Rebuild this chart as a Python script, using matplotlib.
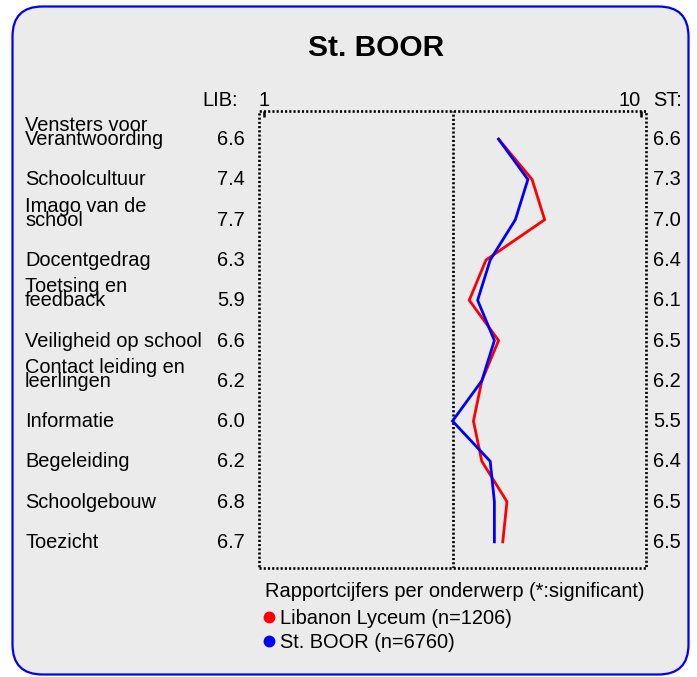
import matplotlib
matplotlib.use("Agg")
import matplotlib.pyplot as plt
from matplotlib.patches import FancyBboxPatch
from matplotlib.lines import Line2D

plt.rcParams['font.family'] = ['Liberation Sans', 'DejaVu Sans']

title = "St. BOOR"
labels = ["Vensters voor\nVerantwoording", "Schoolcultuur", "Imago van de\nschool",
          "Docentgedrag", "Toetsing en\nfeedback", "Veiligheid op school",
          "Contact leiding en\nleerlingen", "Informatie", "Begeleiding",
          "Schoolgebouw", "Toezicht"]
lib_vals = [6.6, 7.4, 7.7, 6.3, 5.9, 6.6, 6.2, 6.0, 6.2, 6.8, 6.7]
st_vals = [6.6, 7.3, 7.0, 6.4, 6.1, 6.5, 6.2, 5.5, 6.4, 6.5, 6.5]
scale_ticks = [1, 10]
midpoint = 5.5
legend_title = "Rapportcijfers per onderwerp (*:significant)"
series_names = ["Libanon Lyceum (n=1206)", "St. BOOR (n=6760)"]
series_colors = ["#ff0000", "#0000ff"]

W, H = 697, 677
fig = plt.figure(figsize=(W / 100, H / 100), dpi=100)
fig.patch.set_facecolor("white")

# rounded background box
box = FancyBboxPatch((0.125, 0.025), 6.76, 6.68,
                     boxstyle="round,pad=0,rounding_size=0.3",
                     transform=fig.dpi_scale_trans, zorder=-10,
                     facecolor="#ebebeb", edgecolor="#0000ff", linewidth=1.6)
fig.add_artist(box)

def fy(py):
    return (H - py) / H

ax = fig.add_axes([259 / W, fy(568), (646 - 259) / W, (568 - 111) / H])
ax.set_facecolor("none")
rows = list(range(len(labels)))
ax.set_xlim(0.881, 10.119)
ax.set_ylim(10.65, -0.70)
ax.xaxis.tick_top()
ax.set_xticks(scale_ticks)
ax.tick_params(axis="x", direction="in", length=4, width=1.8, labeltop=False,
               color="black")
ax.set_yticks([])
for s in ax.spines.values():
    s.set_visible(False)
dot = (0, (0.8, 0.8))
ax.plot([0, 1, 1, 0, 0], [0, 0, 1, 1, 0], transform=ax.transAxes, clip_on=False,
        color="black", linestyle=dot, linewidth=1.9)
ax.axvline(midpoint, color="black", linestyle=dot, linewidth=1.9)

ax.plot(lib_vals, rows, color=series_colors[0], linewidth=2, solid_joinstyle="miter")
ax.plot(st_vals, rows, color=series_colors[1], linewidth=2, solid_joinstyle="miter")

fs = 14.4
# labels and values
for i, lab in enumerate(labels):
    parts = lab.split("\n")
    n = len(parts)
    for k, part in enumerate(parts):
        off = -6 + (n - 1 - k) * 14
        ax.annotate(part, xy=(25, i), xycoords=("figure pixels", "data"),
                    xytext=(0, off), textcoords="offset pixels",
                    ha="left", va="baseline", fontsize=fs, annotation_clip=False)
    ax.annotate(f"{lib_vals[i]:.1f}", xy=(245, i), xycoords=("figure pixels", "data"),
                xytext=(0, -6), textcoords="offset pixels",
                ha="right", va="baseline", fontsize=fs, annotation_clip=False)
    ax.annotate(f"{st_vals[i]:.1f}", xy=(653, i), xycoords=("figure pixels", "data"),
                xytext=(0, -6), textcoords="offset pixels",
                ha="left", va="baseline", fontsize=fs, annotation_clip=False)

# header
hy = fy(106)
fig.text(238 / W, hy, "LIB:", ha="right", va="baseline", fontsize=fs)
ax.annotate(str(scale_ticks[0]), xy=(scale_ticks[0], hy), xycoords=("data", "figure fraction"),
            ha="center", va="baseline", fontsize=fs, annotation_clip=False)
ax.annotate(str(scale_ticks[1]), xy=(scale_ticks[1], hy), xycoords=("data", "figure fraction"),
            ha="right", va="baseline", fontsize=fs, annotation_clip=False)
fig.text(653 / W, hy, "ST:", ha="left", va="baseline", fontsize=fs)

# title
fig.text(376 / W, fy(56), title, ha="center", va="baseline", fontsize=21.5, fontweight="bold")

# legend
fig.text(265 / W, fy(597), legend_title, ha="left", va="baseline", fontsize=fs)
for j, (name, col) in enumerate(zip(series_names, series_colors)):
    yb = 624 + j * 24
    fig.add_artist(Line2D([269 / W], [fy(yb - 7)], marker="o", markersize=7.5,
                          color=col, linestyle="none", transform=fig.transFigure))
    fig.text(280 / W, fy(yb), name, ha="left", va="baseline", fontsize=fs)

fig.savefig("out.png", dpi=100, facecolor="white")
